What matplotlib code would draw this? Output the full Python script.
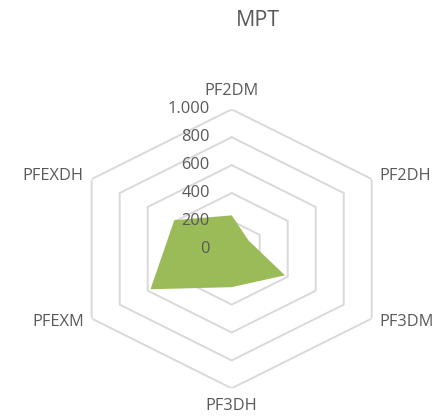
import numpy as np
import matplotlib.pyplot as plt

categories = ['PF2DM', 'PF2DH', 'PF3DM', 'PF3DH', 'PFEXM', 'PFEXDH']
values = [240, 120, 380, 275, 580, 410]
levels = [0, 200, 400, 600, 800, 1000]
level_labels = ['0', '200', '400', '600', '800', '1.000']

green = '#9BBB59'
grid_col = '#D9D9D9'
text_col = '#595959'
plt.rcParams['font.family'] = ['Open Sans', 'DejaVu Sans']

fig = plt.figure(figsize=(4.38, 4.17), dpi=100)
ax = fig.add_axes([0.1598, 0.0688, 0.7384, 0.669], projection='polar')
ax.set_aspect('auto')
ax.set_theta_zero_location('N')
ax.set_theta_direction(-1)

n = len(categories)
angles = np.arange(n) * 2 * np.pi / n
closed = np.append(angles, angles[0])

# hexagonal grid, no spokes
for lv in levels[1:]:
    ax.plot(closed, [lv] * (n + 1), color=grid_col, lw=1.4, zorder=1)

ax.fill(closed, values + values[:1], color=green, lw=0, zorder=2)

ax.set_ylim(0, levels[-1])
ax.grid(False)
ax.set_xticks([])
ax.set_yticks([])
ax.spines['polar'].set_visible(False)

# category labels
offsets = [(0, 18, 'center'), (8, 3, 'left'), (8, -3, 'left'),
           (0, -18, 'center'), (-8, -3, 'right'), (-8, 3, 'right')]
for a, lab, (dx, dy, ha) in zip(angles, categories, offsets):
    ax.annotate(lab, xy=(a, levels[-1]), xytext=(dx * 0.72, dy * 0.72),
                textcoords='offset points', ha=ha, va='center',
                fontsize=11.8, color=text_col, annotation_clip=False)

# value axis labels
for lv, lab in zip(levels, level_labels):
    ax.annotate(lab, xy=(0, lv), xytext=(-22 * 0.72, 0),
                textcoords='offset points', ha='right', va='center',
                fontsize=11.8, color=text_col, zorder=3, annotation_clip=False)

fig.text(258 / 438, 1 - 21 / 417, 'MPT', ha='center', va='center',
         fontsize=15.5, color=text_col)

fig.savefig('out.png', dpi=100)
